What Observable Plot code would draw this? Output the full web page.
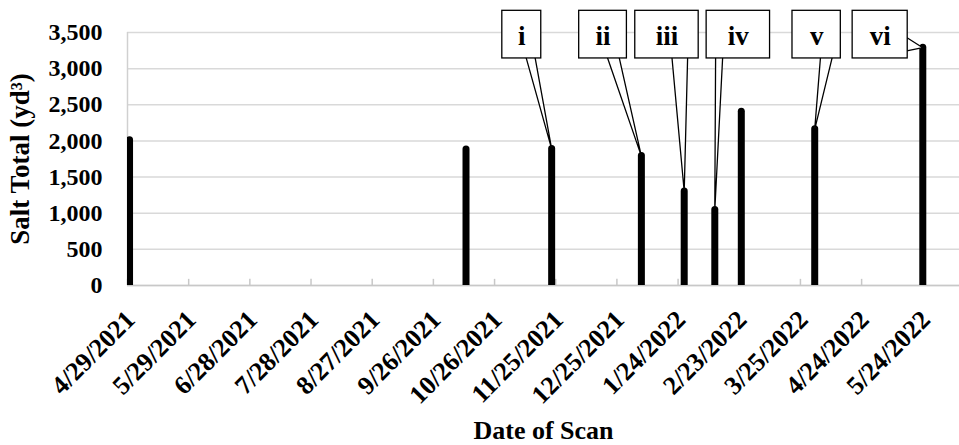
<!DOCTYPE html>
<html>
<head>
<meta charset="utf-8">
<script src="https://cdn.jsdelivr.net/npm/d3@7"></script>
<script src="https://cdn.jsdelivr.net/npm/@observablehq/plot@0.6"></script>
<style>
  html, body { margin: 0; padding: 0; background: #fff; }
</style>
</head>
<body>
<div id="chart"></div>
<script>
// ---- data ----
const scanDates = ["2021-04-30", "2021-10-12", "2021-11-23", "2022-01-06", "2022-01-27", "2022-02-11", "2022-02-24", "2022-04-01", "2022-05-24"];
const saltTotals = [2010, 1880, 1890, 1790, 1300, 1045, 2405, 2160, 3290];
const tickLabels = ["4/29/2021", "5/29/2021", "6/28/2021", "7/28/2021", "8/27/2021", "9/26/2021", "10/26/2021", "11/25/2021", "12/25/2021", "1/24/2022", "2/23/2022", "3/25/2022", "4/24/2022", "5/24/2022"];
const yTicks = [0, 500, 1000, 1500, 2000, 2500, 3000, 3500];
const calloutLabels = ["i", "ii", "iii", "iv", "v", "vi"];
const calloutTargets = [2, 3, 4, 5, 7, 8];

// ---- callout layout (days from axis start) ----
const boxLayout = [
  {x1: 183.8, x2: 202.9, w1: 195.2, w2: 199.7},
  {x1: 221.5, x2: 244.9, w1: 235.0, w2: 240.9},
  {x1: 249.0, x2: 280.1, w1: 266.9, w2: 274.7},
  {x1: 284.0, x2: 315.1, w1: 288.4, w2: 291.9},
  {x1: 326.1, x2: 349.8, w1: 339.9, w2: 345.8},
  {x1: 355.6, x2: 382.6, side: "right", wy1: 3431, wy2: 3247}
];
const boxY1 = 3141, boxY2 = 3800, labelY = 3440;

const parse = d3.utcParse("%m/%d/%Y");
const origin = parse(tickLabels[0]);
const dayAt = n => new Date(+origin + n * 864e5);
const tickDates = tickLabels.map(parse);
const fmt = d3.utcFormat("%-m/%-d/%Y");
const bars = scanDates.map((d, i) => ({date: d3.utcParse("%Y-%m-%d")(d), value: saltTotals[i]}));

const boxes = calloutLabels.map((label, i) => {
  const L = boxLayout[i];
  return {label, x1: dayAt(L.x1), x2: dayAt(L.x2), xc: dayAt((L.x1 + L.x2) / 2)};
});
const wedges = [];
calloutLabels.forEach((label, i) => {
  const L = boxLayout[i], b = bars[calloutTargets[i]];
  if (L.side === "right") {
    wedges.push({label, x: dayAt(L.x2 - 0.5), y: L.wy1});
    wedges.push({label, x: b.date, y: b.value});
    wedges.push({label, x: dayAt(L.x2 - 0.5), y: L.wy2});
  } else {
    wedges.push({label, x: dayAt(L.w1), y: boxY1 + 40});
    wedges.push({label, x: b.date, y: b.value});
    wedges.push({label, x: dayAt(L.w2), y: boxY1 + 40});
  }
});

const chart = Plot.plot({
  width: 959,
  height: 445,
  marginLeft: 127,
  marginRight: 0,
  marginTop: 32,
  marginBottom: 160,
  style: {fontFamily: "'Liberation Serif', 'Times New Roman', serif", fontWeight: "bold", fontSize: "24px", color: "#000", background: "#fff"},
  x: {type: "utc", domain: [origin, dayAt(408)]},
  y: {domain: [0, 3500]},
  marks: [
    Plot.gridY(yTicks, {stroke: "#d9d9d9", strokeOpacity: 1, strokeWidth: 1.5}),
    Plot.ruleX([origin], {y1: 0, y2: 3500, stroke: "#d0d0d0", strokeWidth: 1.5}),
    Plot.ruleY([0], {stroke: "#c8c8c8", strokeWidth: 1.5}),
    Plot.ruleX(tickDates, {y1: 0, y2: 85, stroke: "#c8c8c8", strokeWidth: 1.5}),
    Plot.axisY(yTicks, {tickSize: 0, tickPadding: 25, tickFormat: d3.format(","), label: "Salt Total (yd³)", labelAnchor: "center", labelArrow: "none", labelOffset: 118, fontSize: 24}),
    Plot.axisX(tickDates, {tickSize: 0, tickPadding: 24, tickRotate: -45, tickFormat: fmt, label: null, fontSize: 26, dx: 3, dy: 6}),
    Plot.axisX({label: "Date of Scan", labelAnchor: "center", labelArrow: "none", labelOffset: 153, ticks: [], tickSize: 0, fontSize: 26}),
    Plot.ruleX(bars, {x: "date", y1: 0, y2: "value", stroke: "#000", strokeWidth: 7, strokeLinecap: "round", clip: true}),
    Plot.line(wedges, {x: "x", y: "y", z: "label", curve: "linear-closed", fill: "#fff", stroke: "#000", strokeWidth: 1.3}),
    Plot.rect(boxes, {x1: "x1", x2: "x2", y1: boxY1, y2: boxY2, fill: "#fff", stroke: "#000", strokeWidth: 1.3}),
    Plot.text(boxes, {x: "xc", y: labelY, text: "label", fontSize: 27, fontWeight: "bold"})
  ]
});
chart.querySelectorAll("g[aria-label='y-axis label'] text").forEach(t => t.setAttribute("font-size", 27));
document.getElementById("chart").appendChild(chart);
</script>
</body>
</html>
